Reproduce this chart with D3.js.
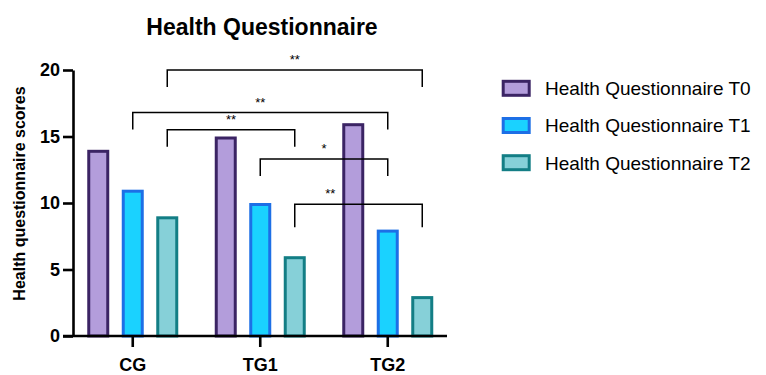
<!DOCTYPE html>
<html>
<head>
<meta charset="utf-8">
<script src="https://cdn.jsdelivr.net/npm/d3@7"></script>
<style>
  html, body { margin: 0; padding: 0; background: #fff; }
  svg { display: block; font-family: "Liberation Sans", Arial, sans-serif; }
</style>
</head>
<body>
<svg id="chart" width="766" height="375"></svg>
<script>
// ---- data ----
const groups = ["CG", "TG1", "TG2"];
const series = ["Health Questionnaire T0", "Health Questionnaire T1", "Health Questionnaire T2"];
const valuesT0 = [14, 15, 16];
const valuesT1 = [11, 10, 8];
const valuesT2 = [9, 6, 3];
const yTicks = [0, 5, 10, 15, 20];
const fills = ["#b39ddb", "#1ad2ff", "#86d0d8"];
const strokes = ["#3b2464", "#1d6fe6", "#137e85"];
// significance brackets: [group, seriesIndex] -> [group, seriesIndex], level (score units), label
const bracketFrom = [["CG", 2], ["CG", 1], ["CG", 2], ["TG1", 1], ["TG1", 2]];
const bracketTo   = [["TG2", 2], ["TG2", 1], ["TG1", 2], ["TG2", 1], ["TG2", 2]];
const bracketLevel = [20, 16.8, 15.5, 13.3, 9.9];
const bracketLabel = ["**", "**", "**", "*", "**"];

const allValues = [valuesT0, valuesT1, valuesT2];

// ---- layout ----
const svg = d3.select("#chart");
const yAxisX = 73;
const x0 = d3.scaleBand().domain(groups).range([69, 451.5]);
const x1 = d3.scalePoint().domain(d3.range(series.length)).range([-34.5, 34.5]);
const y = d3.scaleLinear().domain([0, 20]).range([336, 70]);
const cx = (g, s) => x0(g) + x0.bandwidth() / 2 + x1(s);
const barW = 19;

// title
svg.append("text")
  .attr("x", 262).attr("y", 35)
  .attr("text-anchor", "middle")
  .attr("font-size", 23).attr("font-weight", "bold")
  .text("Health Questionnaire");

// y axis label
svg.append("text")
  .attr("transform", "translate(25,193.5) rotate(-90)")
  .attr("text-anchor", "middle")
  .attr("font-size", 16).attr("font-weight", "bold")
  .text("Health questionnaire scores");

// bars
const barRects = [];
series.forEach((s, si) => {
  groups.forEach((g, gi) => {
    const v = allValues[si][gi];
    barRects.push({ x0: cx(g, si) - barW / 2 - 1.5, x1: cx(g, si) + barW / 2 + 1.5, top: y(v) });
  });
  svg.append("g").selectAll("rect")
    .data(groups.map((g, gi) => ({ g, v: allValues[si][gi] })))
    .join("rect")
    .attr("x", d => cx(d.g, si) - barW / 2)
    .attr("width", barW)
    .attr("y", d => y(d.v) + 1.5)
    .attr("height", d => y(0) - y(d.v) - 1.5)
    .attr("fill", fills[si])
    .attr("stroke", strokes[si])
    .attr("stroke-width", 3);
});

// y axis
const yAxis = d3.axisLeft(y).tickValues(yTicks).tickSize(10).tickPadding(3).tickSizeOuter(0);
const gy = svg.append("g").attr("transform", `translate(${yAxisX},0)`).call(yAxis);
gy.attr("font-size", 18).attr("font-family", "Liberation Sans, Arial, sans-serif");
gy.select(".domain").attr("stroke", "#000").attr("stroke-width", 2.6);
gy.selectAll(".tick line").attr("stroke", "#000").attr("stroke-width", 2.6);
gy.selectAll(".tick text").attr("font-weight", "bold").attr("fill", "#000");

// x axis
const xAxis = d3.axisBottom(x0).tickSize(11).tickPadding(11).tickSizeOuter(0);
const gx = svg.append("g").attr("transform", `translate(0,${y(0)})`).call(xAxis);
gx.attr("font-size", 18).attr("font-family", "Liberation Sans, Arial, sans-serif");
gx.select(".domain").attr("d", `M63,0H447`).attr("stroke", "#000").attr("stroke-width", 2.6);
gx.selectAll(".tick line").attr("stroke", "#000").attr("stroke-width", 2.6);
gx.selectAll(".tick text").attr("font-weight", "bold").attr("fill", "#000");

// brackets
const drop = 17;
bracketFrom.forEach((f, i) => {
  const t = bracketTo[i];
  const xa = cx(f[0], f[1]), xb = cx(t[0], t[1]);
  const yl = y(bracketLevel[i]);
  const d = i === 4 ? drop + 6 : drop;
  svg.append("path")
    .attr("d", `M${xa},${yl + d}V${yl}H${xb}V${yl + d}`)
    .attr("fill", "none").attr("stroke", "#000").attr("stroke-width", 1.5);
  // place label at midpoint, shifted left if it would sit on a bar
  let lx = (xa + xb) / 2;
  const half = 6;
  const hit = barRects.find(b => b.top < yl - 4 && lx + half > b.x0 && lx - half < b.x1);
  if (hit) lx = hit.x0 - half - 6;
  svg.append("text")
    .attr("x", lx).attr("y", yl - 6)
    .attr("text-anchor", "middle").attr("font-size", 13)
    .text(bracketLabel[i]);
});

// legend
const lg = svg.append("g");
series.forEach((s, si) => {
  const cy = 88.3 + si * 37.2;
  lg.append("rect")
    .attr("x", 503.2).attr("y", cy - 7).attr("width", 26).attr("height", 14)
    .attr("fill", fills[si]).attr("stroke", strokes[si]).attr("stroke-width", 3);
  lg.append("text")
    .attr("x", 545).attr("y", cy + 6.8)
    .attr("font-size", 19)
    .text(s);
});
</script>
</body>
</html>
